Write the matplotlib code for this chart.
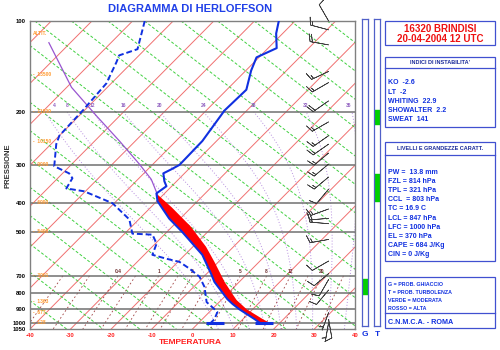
import numpy as np
import matplotlib
matplotlib.use("Agg")
import matplotlib.pyplot as plt
from matplotlib.patches import Rectangle
from matplotlib.ticker import NullLocator

plt.rcParams['font.family'] = ['Liberation Sans', 'DejaVu Sans']
plt.rcParams['font.weight'] = 'bold'

# sondaggio 16320 Brindisi - 20-04-2004 12 UTC
temp_p = [100, 110, 123, 132, 146, 169, 198, 250, 300, 310, 320, 340, 353, 373,
          396, 452, 500, 596, 695, 733, 836, 868, 903, 974, 1000]
temp_t = [-54.0, -51.6, -47.9, -50.6, -48.7, -45.2, -45.5, -43.5, -43.3, -44.2,
          -45.2, -43.0, -41.3, -42.0, -39.8, -32.7, -26.3, -15.7, -8.5, -6.1,
          1.3, 3.8, 6.7, 12.9, 14.9]

dew_p = [100, 124, 130, 137, 161, 198, 240, 256, 303, 320, 332, 359, 367, 402,
         455, 507, 511, 547, 596, 614, 629, 663, 705, 762, 855, 903, 923, 974, 1000]
dew_t = [-87.0, -81.9, -84.9, -83.9, -81.2, -80.4, -80.0, -78.7, -73.8, -68.4,
         -66.4, -65.4, -60.3, -50.4, -42.3, -38.1, -32.9, -29.7, -28.0, -23.6,
         -19.6, -15.4, -11.0, -7.3, -3.1, 0.6, 2.0, 3.0, 3.0]

# curva di stato della particella
parcel_p = [118, 166, 206, 250, 298, 335, 376, 415, 480, 560, 629, 733, 804,
            842, 903, 974, 1000]
parcel_t = [-105.3, -88.8, -75.8, -63.9, -53.4, -46.7, -41.5, -34.8, -25.5,
            -16.8, -11.0, -3.6, 1.3, 3.8, 8.5, 14.9, 17.3]

sfc_t = 16.0
sfc_td = 4.0

# vento (direzione gradi, velocita' nodi)
wind_p = [100, 107, 120, 147, 160, 184, 216, 240, 256, 274, 298, 329, 361, 420,
          451, 470, 530, 625, 688, 720, 780, 926, 976, 1000]
wind_dir = [330, 285, 280, 245, 240, 235, 240, 235, 235, 230, 230, 230, 220, 250,
            265, 275, 260, 240, 230, 210, 220, 200, 170, 190]
wind_spd = [10, 15, 20, 15, 15, 20, 15, 15, 15, 15, 15, 15, 10, 15,
            20, 15, 15, 10, 10, 10, 10, 5, 10, 5]

# altezze livelli standard
quota_p = [110, 150, 200, 250, 300, 400, 500, 700, 850, 925, 1000]
quota_lbl = ['ALTIT.', '13500', '11800', '10150', '9000', '6990', '5490',
             '3001', '1363', '677', '128']

mix_w = [0.1, 0.2, 0.4, 0.6, 1, 1.5, 2, 3, 5, 8, 12, 16, 20, 28]
mix_lbl = [0.4, 1, 2, 5, 8, 12, 20]
theta_w = [4, 8, 12, 16, 20, 24, 28, 32, 36]

# probabilita' ghiaccio / turbolenza (strati in hPa)
ghiaccio = [(735, 820)]
turbolenza = [(201, 223), (327, 402)]

indici = ['KO  -2.6', 'LT  -2', 'WHITING  22.9', 'SHOWALTER  2.2', 'SWEAT  141']
livelli = ['PW =  13.8 mm', 'FZL = 814 hPa', 'TPL = 321 hPa', 'CCL  = 803 hPa',
           'TC = 16.9 C', 'LCL = 847 hPa', 'LFC = 1000 hPa', 'EL = 370 hPa',
           'CAPE = 684 J/Kg', 'CIN = 0 J/Kg']
legenda = ['G = PROB. GHIACCIO', 'T = PROB. TURBOLENZA', 'VERDE = MODERATA',
           'ROSSO = ALTA']

PBOT = 1050.0
PTOP = 100.0
K = 32.0
BLU = '#1030e0'


def skew(t, p):
    return np.asarray(t, dtype=float) + K * np.log(PBOT / np.asarray(p, dtype=float))


def lapse(t, p):
    es = 6.112 * np.exp(17.67 * (t - 273.15) / (t - 29.65))
    rs = 0.622 * es / (p - es)
    num = 287.0 * t + 2.5e6 * rs
    den = 1004.0 + 2.5e6 ** 2 * rs * 0.622 / (287.0 * t ** 2)
    return num / (p * den)


def moist_adiabat(t0):
    ps = [1000.0]
    ts = [t0 + 273.15]
    p, t = 1000.0, t0 + 273.15
    while p > 200:
        t = t + lapse(t, p) * (-2.0)
        p -= 2.0
        ps.append(p)
        ts.append(t)
    pd, td = 1000.0, t0 + 273.15
    low_p, low_t = [], []
    while pd < PBOT:
        td = td + lapse(td, pd) * 2.0
        pd += 2.0
        low_p.append(pd)
        low_t.append(td)
    ps = low_p[::-1] + ps
    ts = low_t[::-1] + ts
    return np.array(ps), np.array(ts) - 273.15


def dewpoint(e):
    a = np.log(e / 6.112)
    return 243.5 * a / (17.67 - a)


fig = plt.figure(figsize=(5, 3.5), dpi=100)
ax = fig.add_axes([30 / 500, 21 / 350, 325 / 500, 308 / 350])
ax.set_yscale('log')
ax.set_ylim(PBOT, PTOP)
ax.set_xlim(-40, 40)
ax.yaxis.set_minor_locator(NullLocator())

pp = np.array([PTOP, PBOT])
# isoterme
for t in range(-140, 50, 10):
    ax.plot(skew([t, t], pp), pp, color='#f07070', lw=0.7, zorder=1)

# adiabatiche secche (rette)
S = 41.6
for c in np.arange(-40, 140, 9):
    ax.plot(c + S * np.log(pp / PBOT), pp, color='#40d040', lw=0.7,
            dashes=(3, 2), zorder=1)

# pseudoadiabatiche
for tw in theta_w:
    mp, mt = moist_adiabat(tw)
    ax.plot(skew(mt, mp), mp, color='#b890e0', lw=0.7, dashes=(1, 2), zorder=1)
    xl = min(max(float(skew(mt[-1], mp[-1])), -34.0), 38.5)
    ax.text(xl, 194, str(tw), color='#9060c0', fontsize=3.5,
            ha='center', va='bottom', zorder=3)

# rapporto di mescolanza
pm = np.linspace(700, PBOT, 20)
for w in mix_w:
    e = w * pm / (622.0 + w)
    ax.plot(skew(dewpoint(e), pm), pm, color='#a04040', lw=0.6,
            dashes=(2, 3), zorder=1)
for w in mix_lbl:
    e = w * 700 / (622.0 + w)
    ax.text(skew(dewpoint(e), 700), 690, str(w), color='#703030',
            fontsize=3.5, ha='center', va='bottom', zorder=3)

# livelli isobarici
for p in [200, 300, 400, 500, 700, 800, 900, 1000]:
    ax.axhline(p, color='#707070', lw=1.1, zorder=2)

for p, lbl in zip(quota_p, quota_lbl):
    txt = lbl if lbl == 'ALTIT.' else '-  ' + lbl
    ax.text(-39.3, p, txt, color='#ff9a30', fontsize=3.5, va='center',
            ha='left', zorder=3)

# area CAPE
env_sel = [i for i, p in enumerate(temp_p) if p >= 373]
par_sel = [i for i, p in enumerate(parcel_p) if p >= 376]
fx = np.concatenate([skew([temp_t[i] for i in env_sel], [temp_p[i] for i in env_sel]),
                     skew([parcel_t[i] for i in par_sel], [parcel_p[i] for i in par_sel])[::-1]])
fy = np.concatenate([[temp_p[i] for i in env_sel], [parcel_p[i] for i in par_sel][::-1]])
ax.fill(fx, fy, color='#ff0000', lw=0, zorder=4)

up = [i for i, p in enumerate(parcel_p) if p <= 376]
ax.plot(skew([parcel_t[i] for i in up], [parcel_p[i] for i in up]),
        [parcel_p[i] for i in up], color='#9955d0', lw=0.9, zorder=4)

ax.plot(skew(temp_t, temp_p), temp_p, color=BLU, lw=1.5, zorder=5)
ax.plot(skew(dew_t, dew_p), dew_p, color=BLU, lw=1.4, dashes=(3, 1.5), zorder=5)
ax.plot(skew([sfc_t, sfc_td], [1000, 1000]), [1000, 1000], ls='none', marker='_',
        ms=13, mew=2.2, color=BLU, zorder=6)

# barbe del vento
d = np.radians(wind_dir)
u = -np.array(wind_spd) * np.sin(d)
v = -np.array(wind_spd) * np.cos(d)
ax.barbs(np.full(len(wind_p), 33.5), wind_p, u, v, length=5.2, lw=0.5,
         color='#404040', clip_on=False, zorder=6)

ax.set_yticks([100, 200, 300, 400, 500, 700, 800, 900, 1000, 1050])
ax.set_yticklabels(['100', '200', '300', '400', '500', '700', '800', '900',
                    '1000', '1050'], fontsize=4.2)
ax.set_xticks(range(-40, 41, 10))
ax.set_xticklabels([str(t) for t in range(-40, 41, 10)], fontsize=4.2,
                   color='#ff2020')
ax.tick_params(length=0, pad=3)
for s in ax.spines.values():
    s.set_color('#808080')
    s.set_linewidth(1.0)

# barre G e T
for xb, strati in [(362, ghiaccio), (374, turbolenza)]:
    bx = fig.add_axes([xb / 500, 24 / 350, 6 / 500, 307 / 350])
    bx.set_yscale('log')
    bx.set_ylim(PBOT, PTOP)
    bx.set_xlim(0, 1)
    for p1, p2 in strati:
        bx.axhspan(p1, p2, color='#00d000')
    bx.set_xticks([])
    bx.set_yticks([])
    bx.yaxis.set_minor_locator(NullLocator())
    for s in bx.spines.values():
        s.set_color('#5060c8')
        s.set_linewidth(0.9)

# pannello testi
ov = fig.add_axes([0, 0, 1, 1])
ov.set_xlim(0, 500)
ov.set_ylim(350, 0)
ov.axis('off')

ov.text(190, 9, 'DIAGRAMMA DI HERLOFFSON', color='#2040e8', fontsize=8,
        ha='center', va='center')
ov.text(190, 343, 'TEMPERATURA', color='#ff2020', fontsize=6, ha='center',
        va='center')
ov.text(8, 166, 'PRESSIONE', color='#303030', fontsize=5.5, rotation=90,
        ha='center', va='center')
ov.text(365, 334, 'G', color=BLU, fontsize=6, ha='center', va='center')
ov.text(377, 334, 'T', color=BLU, fontsize=6, ha='center', va='center')

for y0, y1 in [(21, 45), (57, 127), (142, 261), (277, 328)]:
    ov.add_patch(Rectangle((385, y0), 110, y1 - y0, fill=False,
                           ec='#4050d0', lw=0.9))
for ys in [68, 155, 313]:
    ov.plot([385, 495], [ys, ys], color='#4050d0', lw=0.9)

ov.text(440, 29, '16320 BRINDISI', color='#ee1111', fontsize=7, ha='center',
        va='center')
ov.text(440, 39, '20-04-2004 12 UTC', color='#ee1111', fontsize=7,
        ha='center', va='center')
ov.text(440, 62.5, "INDICI DI INSTABILITA'", color='#1a2a9a', fontsize=4,
        ha='center', va='center')
for i, s in enumerate(indici):
    ov.text(388, 83 + 9.2 * i, s, color=BLU, fontsize=5, va='center')
ov.text(440, 148.5, 'LIVELLI E GRANDEZZE CARATT.', color='#1a2a9a',
        fontsize=4, ha='center', va='center')
for i, s in enumerate(livelli):
    ov.text(388, 172.5 + 9.1 * i, s, color=BLU, fontsize=5, va='center')
for i, s in enumerate(legenda):
    ov.text(388, 284 + 8.1 * i, s, color=BLU, fontsize=3.8, va='center')
ov.text(388, 322, 'C.N.M.C.A. - ROMA', color=BLU, fontsize=5.2, va='center')

fig.savefig('out.png', dpi=100)
